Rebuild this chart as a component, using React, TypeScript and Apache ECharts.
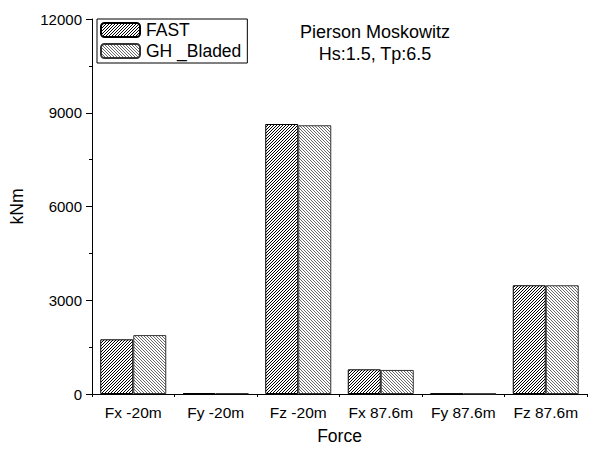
import React, { useEffect, useRef } from "react";
import * as echarts from "echarts";

const categories = ["Fx -20m", "Fy -20m", "Fz -20m", "Fx 87.6m", "Fy 87.6m", "Fz 87.6m"];
const fastValues = [1750, 30, 8640, 790, 15, 3480];
const bladedValues = [1885, 25, 8600, 770, 12, 3480];
const yTicks = { min: 0, max: 12000, interval: 3000 };
const titleLines = ["Pierson Moskowitz", "Hs:1.5, Tp:6.5"];

const FONT = "'Liberation Sans', Arial, sans-serif";

function makeHatch(forward: boolean, color: string): HTMLCanvasElement {
  const size = 3;
  const c = document.createElement("canvas");
  c.width = size;
  c.height = size;
  const ctx = c.getContext("2d")!;
  ctx.fillStyle = "#fff";
  ctx.fillRect(0, 0, size, size);
  ctx.fillStyle = color;
  for (let i = 0; i < size; i++) {
    const x = forward ? size - 1 - i : i;
    ctx.fillRect(x, i, 1, 1);
  }
  return c;
}

export default function App() {
  const ref = useRef<HTMLDivElement>(null);
  useEffect(() => {
    document.body.style.margin = "0";
    const chart = echarts.init(ref.current!, null, { renderer: "svg" });
    const fastPat = { image: makeHatch(true, "#000"), repeat: "repeat", imageWidth: 3, imageHeight: 3 };
    const ghPat = { image: makeHatch(false, "#6a6a6a"), repeat: "repeat", imageWidth: 3, imageHeight: 3 };
    chart.setOption({
      animation: false,
      backgroundColor: "#fff",
      textStyle: { fontFamily: FONT },
      title: {
        text: titleLines.join("\n"),
        left: 370,
        top: 16,
        textAlign: "center",
        textStyle: { fontSize: 18, fontWeight: "normal", color: "#000", lineHeight: 22, fontFamily: FONT },
      },
      legend: {
        orient: "vertical",
        left: 97,
        top: 19,
        padding: [2, 6, 3, 3],
        itemWidth: 39,
        itemHeight: 14,
        itemGap: 3,
        borderColor: "#000",
        borderWidth: 1,
        borderRadius: 0,
        textStyle: { fontSize: 17.5, color: "#000", fontFamily: FONT, padding: [0, 0, 0, 1] },
        data: ["FAST", "GH _Bladed"],
      },
      grid: { left: 88, right: 7, top: 19, bottom: 58 },
      xAxis: [
        {
          type: "category",
          data: categories,
          name: "Force",
          nameLocation: "middle",
          nameGap: 33,
          nameTextStyle: { fontSize: 17.5, color: "#000", fontFamily: FONT },
          axisLine: { lineStyle: { color: "#000", width: 1 } },
          axisTick: { alignWithLabel: true, interval: 0, length: 6, lineStyle: { color: "#000" } },
          axisLabel: { interval: 0, fontSize: 15.5, color: "#000", margin: 10, fontFamily: FONT },
          splitLine: { show: false },
        },
        {
          type: "category",
          data: categories,
          position: "bottom",
          axisLine: { show: false },
          axisTick: { show: true, interval: 0, length: 3, lineStyle: { color: "#000" } },
          axisLabel: { show: false },
          splitLine: { show: false },
        },
      ],
      yAxis: {
        type: "value",
        min: yTicks.min,
        max: yTicks.max,
        interval: yTicks.interval,
        name: "kNm",
        nameLocation: "middle",
        nameGap: 66,
        nameTextStyle: { fontSize: 17.5, color: "#000", fontFamily: FONT },
        axisLine: { show: true, lineStyle: { color: "#000", width: 1 } },
        axisTick: { show: true, length: 6, lineStyle: { color: "#000" } },
        minorTick: { show: true, splitNumber: 2, length: 3, lineStyle: { color: "#000" } },
        axisLabel: { fontSize: 15, color: "#000", margin: 10, fontFamily: FONT, formatter: (v: number) => String(v) },
        splitLine: { show: false },
      },
      series: [
        {
          name: "FAST",
          type: "bar",
          data: fastValues,
          barWidth: 33,
          barGap: "0%",
          itemStyle: { color: fastPat, borderColor: "#000", borderWidth: 1 },
        },
        {
          name: "GH _Bladed",
          type: "bar",
          data: bladedValues,
          barWidth: 33,
          barGap: "0%",
          itemStyle: { color: ghPat, borderColor: "#333", borderWidth: 1 },
        },
      ],
    });
    return () => chart.dispose();
  }, []);
  return <div ref={ref} style={{ width: 594, height: 452 }} />;
}
